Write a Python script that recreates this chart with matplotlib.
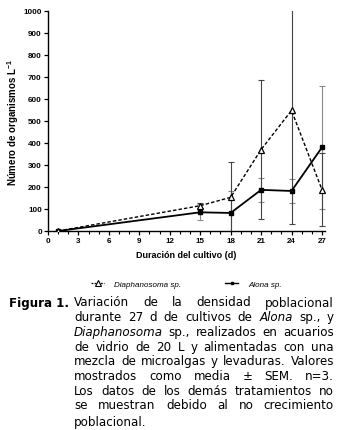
import numpy as np
import matplotlib
matplotlib.use('Agg')
import matplotlib.pyplot as plt
from matplotlib.lines import Line2D

# Data
days = [1, 15, 18, 21, 24, 27]
diaph = [0, 115, 153, 370, 548, 188]
diaph_sem = [2, 12, 160, 315, 514, 165]
alona = [0, 85, 82, 187, 182, 380]
alona_sem = [2, 37, 100, 55, 54, 280]

x_ticks = list(range(0, 28, 3))
y_ticks = list(range(0, 1001, 100))

caption_lines = [
    [["Variación"], ["de"], ["la"], ["densidad"], ["poblacional"]],
    [["durante"], ["27"], ["d"], ["de"], ["cultivos"], ["de"], [("Alona", True)], ["sp.,"], ["y"]],
    [[("Diaphanosoma", True)], ["sp.,"], ["realizados"], ["en"], ["acuarios"]],
    [["de"], ["vidrio"], ["de"], ["20"], ["L"], ["y"], ["alimentadas"], ["con"], ["una"]],
    [["mezcla"], ["de"], ["microalgas"], ["y"], ["levaduras."], ["Valores"]],
    [["mostrados"], ["como"], ["media"], ["±"], ["SEM."], ["n=3."]],
    [["Los"], ["datos"], ["de"], ["los"], ["demás"], ["tratamientos"], ["no"]],
    [["se"], ["muestran"], ["debido"], ["al"], ["no"], ["crecimiento"]],
    [["poblacional."]],
]

W, H = 341, 431
plt.rcParams['font.family'] = ['Liberation Sans', 'DejaVu Sans']
plt.rcParams['mathtext.default'] = 'regular'

fig = plt.figure(figsize=(W / 100, H / 100), dpi=100)
ax = fig.add_axes([48 / W, 1 - 232 / H, 277 / W, 220 / H])

# error bars first
ax.errorbar(days, alona, yerr=alona_sem, fmt='none', ecolor='#8a8a8a',
            elinewidth=0.8, capsize=2.2, capthick=0.8, zorder=1)
ax.errorbar(days, diaph, yerr=diaph_sem, fmt='none', ecolor='#444444',
            elinewidth=0.8, capsize=2.2, capthick=0.8, zorder=1)

ax.plot(days, diaph, color='black', lw=1.0, linestyle=(0, (2.5, 1.5)),
        marker='^', markersize=5, mfc='white', mec='black', mew=0.9, zorder=3)
ax.plot(days, alona, color='black', lw=1.3, marker='s', markersize=2.2,
        mfc='black', mec='black', zorder=2)

ax.set_xlim(0, 27.3)
ax.set_ylim(0, 1000)
ax.set_xticks(x_ticks)
ax.set_xticks(range(0, 28), minor=True)
ax.set_yticks(y_ticks)
ax.spines['top'].set_visible(False)
ax.spines['right'].set_visible(False)
for s in ['left', 'bottom']:
    ax.spines[s].set_linewidth(1.0)
ax.tick_params(axis='both', which='major', length=3, width=0.9, pad=1.5,
               labelsize=5.8)
ax.tick_params(axis='x', which='minor', length=2, width=0.8)
for lab in ax.get_xticklabels() + ax.get_yticklabels():
    lab.set_fontweight('bold')

ax.set_xlabel('Duración del cultivo (d)', fontsize=6.5, fontweight='bold', labelpad=4)
ax.set_ylabel('Número de organismos L$^{-1}$', fontsize=7, fontweight='bold', labelpad=1.5)

handles = [
    Line2D([], [], color='black', lw=0.9, linestyle=(0, (1.5, 1)), marker='^',
           markersize=4, mfc='white', mec='black', mew=0.8),
    Line2D([], [], color='black', lw=1.0, marker='s', markersize=1.8),
]
leg = ax.legend(handles, ['Diaphanosoma sp.', 'Alona sp.'], loc='center',
                bbox_to_anchor=(0.5, (232 - 285) / 220), ncol=2, frameon=False,
                fontsize=5.8, handlelength=1.6, columnspacing=5.5,
                handletextpad=1.2)
for t in leg.get_texts():
    t.set_fontstyle('italic')

# Caption
fs = 8.6
fig.text(9 / W, 1 - 303 / H, 'Figura 1.', fontsize=fs, fontweight='bold',
         family='DejaVu Sans', va='center', ha='left')

renderer = fig.canvas.get_renderer()
x_left, x_right = 74, 334
line_y = [303 + 14.7 * i for i in range(8)] + [423]


def word_pieces(word):
    out = []
    for p in word:
        if isinstance(p, tuple):
            out.append(p)
        else:
            out.append((p, False))
    return out


def piece_width(text, italic):
    t = fig.text(0, 0, text, fontsize=fs, family='DejaVu Sans',
                 style='italic' if italic else 'normal')
    w = t.get_window_extent(renderer).width
    t.remove()
    return w


for i, words in enumerate(caption_lines):
    pieces = [word_pieces(w) for w in words]
    widths = [sum(piece_width(t, it) for t, it in wp) for wp in pieces]
    last = i == len(caption_lines) - 1
    if len(words) > 1 and not last:
        gap = (x_right - x_left - sum(widths)) / (len(words) - 1)
    else:
        gap = piece_width(' ', False)
    x = x_left
    for wp, w in zip(pieces, widths):
        xx = x
        for t, it in wp:
            fig.text(xx / W, 1 - line_y[i] / H, t, fontsize=fs, family='DejaVu Sans',
                     style='italic' if it else 'normal', va='center', ha='left')
            xx += piece_width(t, it)
        x += w + gap

fig.savefig('out.png', dpi=100)
